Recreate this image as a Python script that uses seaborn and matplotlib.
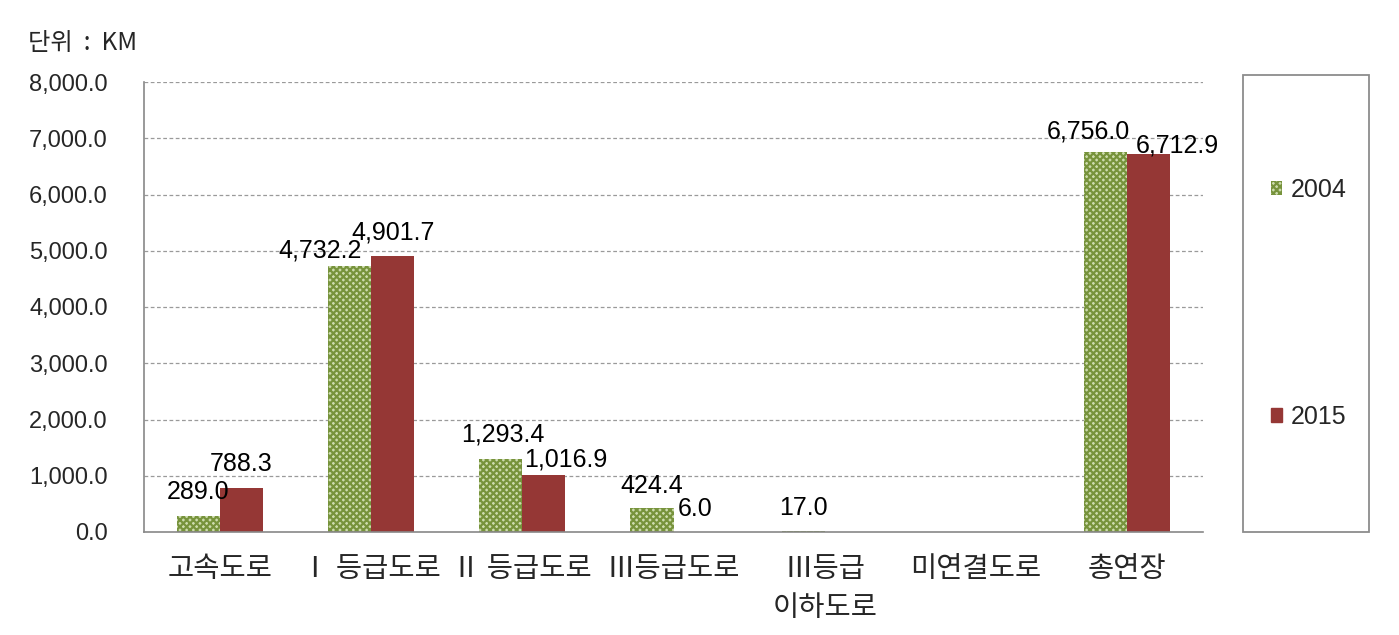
import numpy as np
import pandas as pd
import matplotlib
matplotlib.use("Agg")
import matplotlib.pyplot as plt
import seaborn as sns
from matplotlib.patches import Rectangle, Patch

categories = ["고속도로", "Ⅰ 등급도로", "Ⅱ 등급도로", "Ⅲ등급도로", "Ⅲ등급\n이하도로", "미연결도로", "총연장"]
vals_2004 = [289.0, 4732.2, 1293.4, 424.4, 17.0, np.nan, 6756.0]
vals_2015 = [788.3, 4901.7, 1016.9, 6.0, np.nan, np.nan, 6712.9]
years = ["2004", "2015"]
y_ticks = [0, 1000, 2000, 3000, 4000, 5000, 6000, 7000, 8000]

# label placement (pixel offsets of the label centre from the bar-top centre)
label_offsets = {
    "2004": [(0, 26), (-29, 17), (2, 27), (0, 24), (0, 25), (0, 25), (-17, 22)],
    "2015": [(0, 26), (1, 26), (22, 17), (0, 25), (0, 25), (0, 25), (28, 11)],
}

sns.set_theme(style="white")
plt.rcParams['font.family'] = ['Liberation Sans', 'Noto Sans CJK KR', 'DejaVu Sans']
plt.rcParams['hatch.linewidth'] = 1.6

df = pd.DataFrame({
    "cat": categories * 2,
    "year": [years[0]] * len(categories) + [years[1]] * len(categories),
    "val": vals_2004 + vals_2015,
}).dropna()

green_edge = "#77933c"
green_face = "#cddcae"
red = "#953735"

fig = plt.figure(figsize=(13.99, 6.35), dpi=100)
ax = fig.add_axes([144/1399, 103/635, (1203-144)/1399, (532-82)/635])

sns.barplot(data=df, x="cat", y="val", hue="year", order=categories, hue_order=years,
            palette=[green_face, red], width=0.57, gap=0, ax=ax, legend=False,
            saturation=1)

for i, cont in enumerate(ax.containers):
    yr = years[i]
    for p, v in zip(cont, cont.datavalues):
        p.set_linewidth(0)
        if i == 0:
            p.set_hatch("xxxxx")
            p.set_edgecolor(green_edge)
            p.set_facecolor(green_face)
        xc = p.get_x() + p.get_width() / 2
        ci = int(round(xc))
        dx, dy = label_offsets[yr][ci]
        ax.annotate(f"{v:,.1f}", xy=(xc, v), xytext=(dx, dy - 9),
                    textcoords="offset pixels", ha="center", va="baseline",
                    fontsize=18, color="black", zorder=5)

ax.set_ylim(0, 8000)
ax.set_xlim(-0.5, len(categories) - 0.5)
ax.set_yticks(y_ticks)
ax.set_yticklabels([f"{v:,.1f}" for v in y_ticks], fontsize=17)
ax.tick_params(axis="y", length=5, width=1, color="#888888", direction="out", pad=21)
ax.tick_params(axis="x", length=0, pad=16)
ax.set_xlabel("")
ax.set_ylabel("")
for t in ax.get_xticklabels():
    t.set_fontfamily(['Noto Sans CJK KR', 'DejaVu Sans'])
    t.set_fontsize(20.5)
    t.set_linespacing(1.38)
    t.set_verticalalignment("top")

for y in y_ticks[1:]:
    ax.axhline(y, color="#9a9a9a", lw=0.9, ls=(0, (3, 2)), zorder=0)
ax.set_axisbelow(True)
ax.grid(False)
for s in ["top", "right"]:
    ax.spines[s].set_visible(False)
for s in ["left", "bottom"]:
    ax.spines[s].set_color("#888888")
    ax.spines[s].set_linewidth(1.2)

fig.text(28/1399, 1 - 43/635, "단위  :  KM", fontsize=17.5, va="center", ha="left",
         family=['Noto Sans CJK KR', 'DejaVu Sans'])

# legend frame
fig.patches.append(Rectangle((1243/1399, 103/635), (1369-1243)/1399, (532-75)/635,
                             transform=fig.transFigure, fill=False, edgecolor="#8c8c8c",
                             linewidth=1.3))
h2004 = Patch(facecolor=green_face, edgecolor=green_edge, hatch="xxxxx", linewidth=0)
h2015 = Patch(facecolor=red, edgecolor=red)
for h, lab, yy in [(h2004, "2004", 190), (h2015, "2015", 417)]:
    fig.legend(handles=[h], labels=[lab], loc="center left",
               bbox_to_anchor=(1271/1399, 1 - yy/635), frameon=False, fontsize=18,
               handlelength=0.45, handleheight=0.45, handletextpad=0.32, borderpad=0,
               borderaxespad=0)

fig.savefig("out.png", dpi=100, facecolor="white")
